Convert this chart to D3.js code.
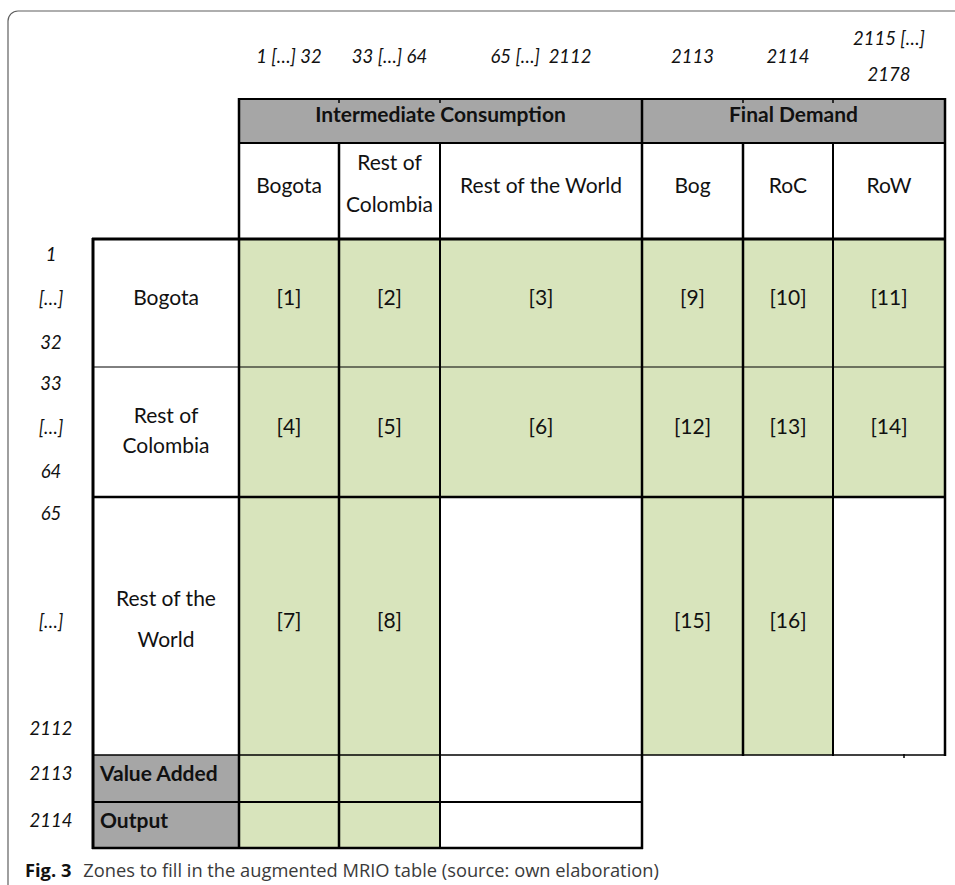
<!DOCTYPE html>
<html>
<head>
<meta charset="utf-8">
<script src="https://cdn.jsdelivr.net/npm/d3@7"></script>
<style>
body{margin:0;background:#fff;}
svg{display:block;}
</style>
</head>
<body>
<svg id="chart" width="955" height="885"></svg>
<script>
// table content
var colGroups = ["Intermediate Consumption", "Final Demand"];
var colGroupSpan = [[0, 3], [3, 6]];
var colLabels = ["Bogota", "Rest of\nColombia", "Rest of the World", "Bog", "RoC", "RoW"];
var colIndex = ["1 […] 32", "33 […] 64", "65 […]  2112", "2113", "2114", "2115 […]\n2178"];
var rowLabels = ["Bogota", "Rest of\nColombia", "Rest of the\nWorld", "Value Added", "Output"];
var rowIndex = [["1", "[…]", "32"], ["33", "[…]", "64"], ["65", "[…]", "2112"], ["2113"], ["2114"]];
var cellLabels = [
    ["[1]", "[2]", "[3]", "[9]", "[10]", "[11]"],
    ["[4]", "[5]", "[6]", "[12]", "[13]", "[14]"],
    ["[7]", "[8]", "", "[15]", "[16]", ""],
    ["", "", ""],
    ["", "", ""]
];
// 1 = zone to fill, 0 = empty cell
var zones = [
    [1, 1, 1, 1, 1, 1],
    [1, 1, 1, 1, 1, 1],
    [1, 1, 0, 1, 1, 0],
    [1, 1, 0],
    [1, 1, 0]
];
var caption = ["Fig. 3", "Zones to fill in the augmented MRIO table (source: own elaboration)"];

// layout
var green = "#d8e4bc", grey = "#a6a6a6";
var font = "Lato, 'Open Sans', sans-serif";
var fs = 21;
var svg = d3.select("svg#chart");

var x = d3.scaleOrdinal().domain(d3.range(8)).range([93, 239, 339, 440, 642, 743, 833, 945]);
var y = d3.scaleOrdinal().domain(d3.range(6)).range([239, 367, 497, 755, 802, 848]);
var headTop = 99, headMid = 143;
var xc = function(c){ return (x(c + 1) + x(c + 2)) / 2; };   // centre of data column c
var yc = function(r){ return (y(r) + y(r + 1)) / 2; };

// outer frame (rounded, runs off the page right and bottom)
svg.append("rect")
    .attr("x", 8).attr("y", 11).attr("width", 1100).attr("height", 1100)
    .attr("rx", 10).attr("fill", "none").attr("stroke", "#5f5f5f").attr("stroke-width", 1.2);

// header fills
svg.selectAll("rect.group").data(colGroupSpan).enter().append("rect")
    .attr("class", "group")
    .attr("x", function(d){ return x(d[0] + 1); })
    .attr("y", headTop)
    .attr("width", function(d){ return x(d[1] + 1) - x(d[0] + 1); })
    .attr("height", headMid - headTop)
    .attr("fill", grey);

// body cell fills
var cells = [];
zones.forEach(function(row, r){
    row.forEach(function(z, c){
        cells.push({r: r, c: c, z: z, label: cellLabels[r][c]});
    });
});
svg.selectAll("rect.cell").data(cells).enter().append("rect")
    .attr("class", "cell")
    .attr("x", function(d){ return x(d.c + 1); })
    .attr("y", function(d){ return y(d.r); })
    .attr("width", function(d){ return x(d.c + 2) - x(d.c + 1); })
    .attr("height", function(d){ return y(d.r + 1) - y(d.r); })
    .attr("fill", function(d){ return d.z ? green : "#fff"; });

// row header cells (grey for Value Added, Output)
svg.selectAll("rect.rowhead").data(rowLabels).enter().append("rect")
    .attr("class", "rowhead")
    .attr("x", x(0))
    .attr("y", function(d, i){ return y(i); })
    .attr("width", x(1) - x(0))
    .attr("height", function(d, i){ return y(i + 1) - y(i); })
    .attr("fill", function(d, i){ return i >= 3 ? grey : "#fff"; });

// grid lines
var hLines = [
    {y: headTop, x1: x(1), x2: x(7), w: 2},
    {y: headMid, x1: x(1), x2: x(7), w: 2}
];
var hW = [3, 1, 2.5, 1.5, 2, 2.5];
d3.range(6).forEach(function(r){
    var n = r === 0 ? 6 : Math.max(zones[r - 1].length, (zones[r] || []).length);
    hLines.push({y: y(r), x1: x(0), x2: x(n + 1), w: hW[r]});
});
var vW = [3, 2.5, 2.5, 2, 2.5, 2.5, 2, 2.5];
var vLines = d3.range(8).map(function(c){
    var top = (c === 0) ? y(0) : (c === 1 || c === 4 || c === 7) ? headTop : headMid;
    var bottom = (c <= 4) ? y(5) : y(3);
    return {x: x(c), y1: top, y2: bottom, w: vW[c]};
});
// little stubs of the hidden column borders inside the grey header
[2, 3, 5, 6].forEach(function(c){
    vLines.push({x: x(c), y1: headTop, y2: headTop + 3, w: 1.5});
});
vLines.push({x: 904, y1: y(3), y2: y(3) + 2, w: 1.5});

svg.selectAll("line.h").data(hLines).enter().append("line")
    .attr("x1", function(d){ return d.x1 - 1; }).attr("x2", function(d){ return d.x2 + 1; })
    .attr("y1", function(d){ return d.y; }).attr("y2", function(d){ return d.y; })
    .attr("stroke", "#000").attr("stroke-width", function(d){ return d.w; });
svg.selectAll("line.v").data(vLines).enter().append("line")
    .attr("x1", function(d){ return d.x; }).attr("x2", function(d){ return d.x; })
    .attr("y1", function(d){ return d.y1 - 1; }).attr("y2", function(d){ return d.y2 + 1; })
    .attr("stroke", "#000").attr("stroke-width", function(d){ return d.w; });

// text helpers
var multiline = function(sel, lines, gap){
    lines.forEach(function(t, i){
        sel.append("tspan").attr("x", sel.attr("x"))
            .attr("dy", i === 0 ? -(lines.length - 1) * gap / 2 : gap)
            .text(t);
    });
};

// column group titles
svg.selectAll("text.group").data(colGroups).enter().append("text")
    .attr("x", function(d, i){ return (x(colGroupSpan[i][0] + 1) + x(colGroupSpan[i][1] + 1)) / 2; })
    .attr("y", (headTop + headMid) / 2 + 1)
    .attr("text-anchor", "middle").attr("font-family", font).attr("font-size", fs)
    .attr("font-weight", "bold").attr("fill", "#111")
    .text(function(d){ return d; });

// column labels
svg.selectAll("text.col").data(colLabels).enter().append("text")
    .attr("x", function(d, i){ return xc(i); })
    .attr("y", function(d){ return (headMid + y(0)) / 2 + (d.indexOf("\n") > 0 ? 0 : 2); })
    .attr("text-anchor", "middle").attr("font-family", font).attr("font-size", fs).attr("fill", "#111")
    .each(function(d){ multiline(d3.select(this), d.split("\n"), 41.5); });

// column index numbers (italic, above the table)
svg.selectAll("text.colidx").data(colIndex).enter().append("text")
    .attr("x", function(d, i){ return xc(i); })
    .attr("y", 63)
    .attr("text-anchor", "middle").attr("font-family", font).attr("font-size", 18.5)
    .attr("font-style", "italic").attr("fill", "#111").attr("xml:space", "preserve")
    .each(function(d){ multiline(d3.select(this), d.split("\n"), 36.5); });

// row labels
var rowGap = [0, 29.5, 40.7, 0, 0];
var rowShift = [1.5, 6, 0.5, 2.5, 3];
svg.selectAll("text.row").data(rowLabels).enter().append("text")
    .attr("x", function(d, i){ return i >= 3 ? x(0) + 7 : (x(0) + x(1)) / 2; })
    .attr("y", function(d, i){ return yc(i) + rowShift[i]; })
    .attr("text-anchor", function(d, i){ return i >= 3 ? "start" : "middle"; })
    .attr("font-family", font).attr("font-size", fs).attr("fill", "#111")
    .attr("font-weight", function(d, i){ return i >= 3 ? "bold" : "normal"; })
    .each(function(d, i){ multiline(d3.select(this), d.split("\n"), rowGap[i]); });

// row index numbers (italic, left of the table)
var idx = [];
rowIndex.forEach(function(list, r){
    list.forEach(function(t, k){ idx.push({r: r, k: k, n: list.length, t: t}); });
});
var idxPad = [44, 44, 107.5, 0, 0];
svg.selectAll("text.rowidx").data(idx).enter().append("text")
    .attr("x", 51)
    .attr("y", function(d){
        return yc(d.r) + (d.k - (d.n - 1) / 2) * idxPad[d.r] + 1.5;
    })
    .attr("text-anchor", "middle").attr("font-family", font).attr("font-size", 18.5)
    .attr("font-style", "italic").attr("fill", "#111")
    .text(function(d){ return d.t; });

// zone numbers
svg.selectAll("text.cell").data(cells.filter(function(d){ return d.label; })).enter().append("text")
    .attr("x", function(d){ return xc(d.c); })
    .attr("y", function(d){ return yc(d.r) + 1.5; })
    .attr("text-anchor", "middle").attr("font-family", font).attr("font-size", fs).attr("fill", "#111")
    .text(function(d){ return d.label; });

// caption
var cap = svg.append("text").attr("x", 25).attr("y", 877)
    .attr("font-family", "'Open Sans', 'Noto Sans', sans-serif").attr("font-size", 18.3).attr("fill", "#3a3a3a");
cap.append("tspan").attr("font-weight", "bold").attr("fill", "#111").text(caption[0]);
cap.append("tspan").attr("dx", 12).text(caption[1]);
</script>
</body>
</html>
